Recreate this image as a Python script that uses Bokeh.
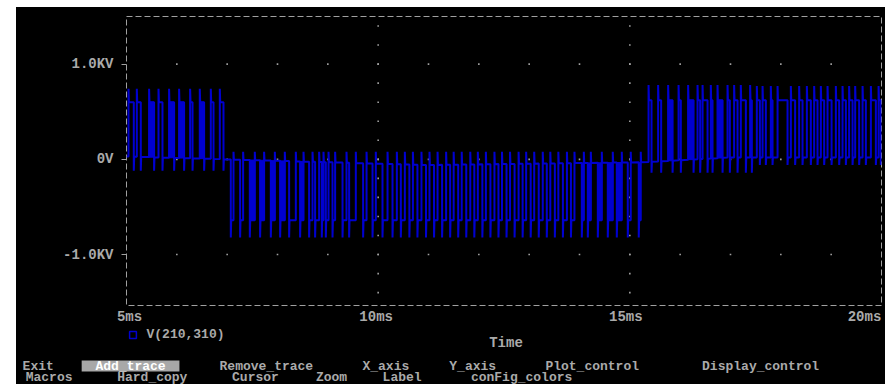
import numpy as np
from bokeh.plotting import figure
from bokeh.models import Range1d, FixedTicker, Legend, LegendItem, Spacer
from bokeh.layouts import column, row
from bokeh.core.properties import value
from bokeh.embed import file_html
from bokeh.resources import INLINE

BLUE = "#0000d0"
GRAY = "#aaaaaa"
FRAME_GRAY = "#a0a0a0"
FONT = "Liberation Mono"
FS = "14px"
FS_MENU = "13px"

# ---------------- axes ----------------
x_ticks = [5, 10, 15, 20]
x_tick_labels = ["5ms", "10ms", "15ms", "20ms"]
y_ticks = [-1.0, 0.0, 1.0]
y_tick_labels = ["-1.0KV", "0V", "1.0KV"]
x_title = "Time"
trace_name = "V(210,310)"

# ---------------- waveform (kV vs ms) ----------------
region_level = [0.60, -0.64, 0.62, 0.62]
region_far = [0.74, -0.82, 0.78, 0.77]
region_near = [-0.12, 0.08, -0.14, -0.06]

base_t = [5.0, 7.0, 11.0, 15.3, 17.0, 20.0]
base_v = [0.03, 0.0, -0.06, -0.03, 0.02, 0.02]

edges_r1 = [5.040, 5.145, 5.205, 5.284, 5.449, 5.548, 5.636, 5.715, 5.846, 5.946,
            6.045, 6.144, 6.264, 6.312, 6.456, 6.542, 6.675, 6.729, 6.854, 6.927]
edges_r2 = [7.072, 7.126, 7.257, 7.317, 7.450, 7.549, 7.654, 7.734, 7.867, 7.947,
            8.052, 8.145, 8.231, 8.364, 8.449, 8.517, 8.628, 8.696, 8.747, 8.827,
            8.880, 8.914, 8.960, 9.014, 9.093, 9.145, 9.292, 9.371, 9.423, 9.556,
            9.701, 9.769, 9.888, 9.953, 10.086, 10.186, 10.285, 10.371,
            10.45, 10.53, 10.62, 10.69, 10.78, 10.86, 10.95, 11.02, 11.11, 11.18,
            11.27, 11.35, 11.43, 11.50, 11.59, 11.66, 11.75, 11.83, 11.91, 11.98,
            12.07, 12.14, 12.23, 12.31, 12.39, 12.46, 12.55, 12.62, 12.71, 12.79,
            12.87, 12.94, 13.03, 13.10, 13.19, 13.27, 13.35, 13.42, 13.51, 13.58,
            13.67, 13.75, 13.83, 13.90,
            14.046, 14.086, 14.165, 14.225, 14.364, 14.443, 14.562, 14.661, 14.741, 14.840,
            14.959, 15.018, 15.177, 15.217]
edges_r3 = [15.372, 15.431, 15.562, 15.622, 15.761, 15.849, 15.968, 16.013, 16.158, 16.266,
            16.345, 16.397, 16.445, 16.544, 16.609, 16.643, 16.742, 16.842, 16.941, 16.987,
            17.072, 17.140, 17.205, 17.305, 17.390, 17.424]
edges_r4 = [17.523, 17.583, 17.637, 17.702, 17.801, 17.835, 17.935, 18.133, 18.199, 18.284,
            18.364, 18.431, 18.517, 18.596, 18.662, 18.729, 18.795, 18.861, 18.928, 19.008,
            19.093, 19.159, 19.226, 19.292, 19.357, 19.425, 19.477, 19.556, 19.624, 19.689,
            19.789, 19.888, 19.942, 19.987]
region_edges = [edges_r1, edges_r2, edges_r3, edges_r4]

blocks_t0 = [5.449, 5.846, 6.045, 6.456,
             7.450, 7.654, 7.867, 8.052, 8.449, 8.880,
             14.046, 14.165, 14.364, 14.562, 14.741,
             15.761, 16.158, 16.742]
blocks_t1 = [5.548, 5.946, 6.144, 6.542,
             7.549, 7.734, 7.947, 8.145, 8.517, 8.914,
             14.086, 14.225, 14.443, 14.661, 14.840,
             15.849, 16.266, 16.842]
blocks_region = [0, 0, 0, 0,
                 1, 1, 1, 1, 1, 1,
                 1, 1, 1, 1, 1,
                 2, 2, 2]

menu_row1 = ["Exit", "Add_trace", "Remove_trace", "X_axis", "Y_axis", "Plot_control", "Display_control"]
menu_row2 = ["Macros", "Hard_copy", "Cursor", "Zoom", "Label", "conFig_colors"]
menu_selected = "Add_trace"

# ---------------- build trace ----------------
DT = 0.008


def base_at(t):
    return float(np.interp(t, base_t, base_v))


xs, ys = [5.0], [base_at(5.0)]
for k, edges in enumerate(region_edges):
    lvl, far, near = region_level[k], region_far[k], region_near[k]
    high = False
    for t in edges:
        b = base_at(t)
        if not high:
            xs += [t, t, t + DT]
            ys += [b, far, lvl]
        else:
            xs += [t, t, t + DT]
            ys += [lvl, near, b]
        high = not high
xs.append(20.0)
ys.append(base_at(20.0))

q_bottom, q_top = [], []
for t0, t1, r in zip(blocks_t0, blocks_t1, blocks_region):
    b = base_at(0.5 * (t0 + t1))
    lvl = region_level[r]
    q_bottom.append(min(b, lvl))
    q_top.append(max(b, lvl))

# ---------------- main plot ----------------
LEFT_GAP = 16
TOP_GAP = 7
W = 885 - LEFT_GAP
TOTAL_H = 384
FRAME_L, FRAME_R, FRAME_T, FRAME_B = 110, 4, 9, 23
H1 = FRAME_T + 289 + FRAME_B
p = figure(width=W, height=H1, x_range=Range1d(5, 20), y_range=Range1d(-1.535, 1.5),
           output_backend="svg", toolbar_location=None,
           min_border_left=FRAME_L, min_border_right=FRAME_R,
           min_border_top=FRAME_T, min_border_bottom=FRAME_B,
           background_fill_color="black", border_fill_color="black")
p.grid.visible = False
p.outline_line_color = FRAME_GRAY
p.outline_line_dash = "6 3"
p.outline_line_width = 1

px_per_ms = (W - FRAME_L - FRAME_R) / (x_ticks[-1] - x_ticks[0])
label_shift_px = [3, -2, -4, -17]          # PSpice nudges its labels (last one kept on screen)
label_pos = [round(t + s / px_per_ms, 4) for t, s in zip(x_ticks, label_shift_px)]
p.xaxis.ticker = FixedTicker(ticks=label_pos)
p.xaxis.major_label_overrides = dict(zip(label_pos, x_tick_labels))
p.xaxis.major_tick_out = 0
p.xaxis.major_label_standoff = 3
p.yaxis.ticker = FixedTicker(ticks=y_ticks)
p.yaxis.major_label_overrides = dict(zip(y_ticks, y_tick_labels))
p.yaxis.major_tick_out = 5
p.yaxis.major_label_standoff = 8
for ax in (p.xaxis, p.yaxis):
    ax.axis_line_color = None
    ax.major_tick_line_color = FRAME_GRAY
    ax.minor_tick_line_color = None
    ax.major_tick_in = 0
    ax.major_label_text_font = FONT
    ax.major_label_text_font_style = "bold"
    ax.major_label_text_font_size = FS
    ax.major_label_text_color = GRAY

# grid dots
gx, gy = [], []
for yv in y_ticks:
    for xv in np.arange(x_ticks[0] + 1, x_ticks[-1]):
        gx.append(float(xv)); gy.append(yv)
for xv in x_ticks[1:-1]:
    for yv in np.round(np.arange(-1.4, 1.41, 0.2), 2):
        gx.append(float(xv)); gy.append(float(yv))
p.scatter(gx, gy, marker="square", size=1.6, fill_color=FRAME_GRAY, line_color=None)

# trace
p.quad(left=blocks_t0, right=blocks_t1, bottom=q_bottom, top=q_top,
       fill_color=BLUE, line_color=BLUE, line_width=1)
p.line(xs, ys, line_color=BLUE, line_width=2)

# ---------------- lower strip: legend, axis title, menu ----------------
H2 = TOTAL_H - TOP_GAP - H1
q = figure(width=W, height=H2, x_range=Range1d(0, W), y_range=Range1d(H2, 0),
           output_backend="svg", toolbar_location=None, x_axis_type=None, y_axis_type=None,
           min_border=0, min_border_left=0, min_border_right=0, min_border_top=0, min_border_bottom=0,
           background_fill_color="black", border_fill_color="black")
q.grid.visible = False
q.outline_line_color = None
for fig in (p, q):
    try:
        fig.frame_align = False
    except Exception:
        pass

LEG_Y = 6.0
GLYPH = 17
key = q.scatter(x=[-1000.0], y=[-1000.0], marker="square", size=7, fill_color=None,
                line_color=BLUE, line_width=1.5)
legend = Legend(items=[LegendItem(label=trace_name, renderers=[key])],
                location=(FRAME_L - 2.5, H2 - LEG_Y - GLYPH / 2.0), orientation="vertical",
                glyph_width=GLYPH, glyph_height=GLYPH, label_standoff=6, label_height=14,
                padding=0, margin=0, spacing=0,
                background_fill_alpha=0, border_line_alpha=0,
                label_text_font=FONT, label_text_font_style="bold",
                label_text_font_size="13px", label_text_color=GRAY)
q.add_layout(legend)

# x-axis title centred under the plot frame
q.text(x=[FRAME_L + (W - FRAME_L - FRAME_R) / 2.0 + 2], y=[14.5], text=[x_title],
       text_font=value(FONT), text_font_style="bold", text_font_size=value(FS),
       text_color=GRAY, text_align="center", text_baseline="middle")

# menu laid out on the 80-column text grid
CHAR_W = W / 80.0
ROW_Y = (37.5, 48.5)
mx, my, mt, mc = [], [], [], []
for words, yrow in zip((menu_row1, menu_row2), ROW_Y):
    col = 0
    for w in words:
        mx.append((col + len(w) / 2.0) * CHAR_W)
        my.append(yrow)
        mt.append(w)
        mc.append("#ffffff" if w == menu_selected else GRAY)
        if w == menu_selected:
            sel_l, sel_r, sel_y = col * CHAR_W, (col + len(w)) * CHAR_W, yrow
        col += len(w) + 2
q.quad(left=[sel_l], right=[sel_r], top=[sel_y - 5.5], bottom=[sel_y + 5.5],
       fill_color="#a8a8a8", line_color=None)
q.text(x=mx, y=my, text=mt, text_color=mc,
       text_font=value(FONT), text_font_style="bold", text_font_size=value(FS_MENU),
       text_align="center", text_baseline="middle")

screen = column(p, q, styles={"background-color": "black"})
lay = column(Spacer(width=885, height=TOP_GAP),
             row(Spacer(width=LEFT_GAP, height=TOTAL_H - TOP_GAP), screen))
open("out.html", "w").write(file_html(lay, INLINE))
